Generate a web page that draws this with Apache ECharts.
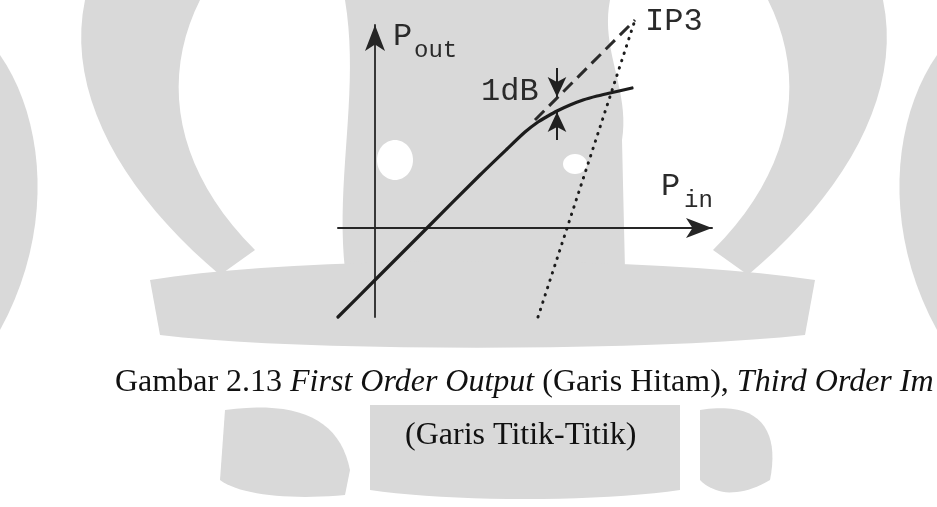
<!DOCTYPE html>
<html>
<head>
<meta charset="utf-8">
<script src="https://cdn.jsdelivr.net/npm/echarts@6/dist/echarts.min.js"></script>
<style>
  html, body { margin: 0; padding: 0; background: #ffffff; }
  #chart { width: 937px; height: 507px; }
</style>
</head>
<body>
<div id="chart"></div>
<script>
// Power axes in arbitrary dB units (origin where both axes cross)
const pinRange  = [-3.7, 33.7];
const poutRange = [-8.9, 20.3];

// First-order output: linear (slope 1) then gain compression
const firstPin  = [-3.7, 0.0, 5.2, 10.5, 13.2, 15.0, 16.3, 17.3, 18.2, 19.5, 20.8, 22.2, 23.5, 25.7];
const firstPout = [-8.9, -5.2, 0.0, 5.3, 7.9, 9.6, 10.6, 11.2, 11.7, 12.3, 12.8, 13.2, 13.5, 14.0];

// Linear extrapolation of the first-order response up to IP3
const extrapPin  = [16.0, 26.0];
const extrapPout = [10.8, 20.8];

// Third-order intermodulation product (slope 3)
const thirdPin  = [16.3, 26.0];
const thirdPout = [-8.9, 20.8];

// 1 dB compression point markers
const compPin       = 18.2;
const arrowDownPout = [16.0, 13.1];
const arrowUpPout   = [8.8, 11.6];

// Text labels and their anchor points (data units)
const labelIP3  = { text: 'IP3', at: [27.0, 19.0] };
const label1dB  = { text: '1dB', at: [10.6, 12.0] };
const labelPout = { main: 'P', sub: 'out', at: [1.8, 17.5], subAt: [3.9, 16.5] };
const labelPin  = { main: 'P', sub: 'in',  at: [28.6, 2.5], subAt: [30.9, 1.5] };

const captionLine1 = [
  ['r', 'Gambar 2.13 '], ['i', 'First Order Output'],
  ['r', ' (Garis Hitam), '], ['i', 'Third Order Im']
];
const captionLine2 = '(Garis Titik-Titik)';

const zip = (xs, ys) => xs.map((x, i) => [x, ys[i]]);

const ink = '#1c1c1c';
const mono = '"Liberation Mono", "DejaVu Sans Mono", monospace';
const serif = '"Liberation Serif", "DejaVu Serif", serif';
const shade = '#d9d9d9';

const chart = echarts.init(document.getElementById('chart'), null, { renderer: 'canvas' });

const hiddenAxisParts = {
  axisTick: { show: false },
  axisLabel: { show: false },
  splitLine: { show: false }
};

chart.setOption({
  backgroundColor: '#ffffff',
  animation: false,
  grid: { left: 338, right: 225, top: 25, bottom: 190, containLabel: false },
  xAxis: Object.assign({
    type: 'value', min: pinRange[0], max: pinRange[1],
    axisLine: {
      show: true, onZero: true,
      symbol: ['none', 'arrow'], symbolSize: [15, 26],
      lineStyle: { color: '#262626', width: 2 }
    }
  }, hiddenAxisParts),
  yAxis: Object.assign({
    type: 'value', min: poutRange[0], max: poutRange[1],
    axisLine: {
      show: true, onZero: true,
      symbol: ['none', 'arrow'], symbolSize: [15, 26],
      lineStyle: { color: '#262626', width: 1.8 }
    }
  }, hiddenAxisParts),
  series: [
    {
      name: 'Third order',
      type: 'line', clip: false, symbol: 'none', z: 3,
      data: zip(thirdPin, thirdPout),
      lineStyle: { color: ink, width: 3, type: [0.5, 7.2], cap: 'round' }
    },
    {
      name: 'Extrapolated first order',
      type: 'line', clip: false, symbol: 'none', z: 4,
      data: zip(extrapPin, extrapPout),
      lineStyle: { color: '#2a2a2a', width: 3, type: [13, 7] }
    },
    {
      name: 'First order',
      type: 'line', clip: false, symbol: 'none', z: 5,
      smooth: 0.25,
      data: zip(firstPin, firstPout),
      lineStyle: { color: ink, width: 3.2, cap: 'round', join: 'round' },
      markLine: {
        silent: true, symbol: ['none', 'arrow'], symbolSize: [14, 20],
        label: { show: false },
        lineStyle: { color: '#202020', width: 2, type: 'solid' },
        data: [
          [{ coord: [compPin, arrowDownPout[0]] }, { coord: [compPin, arrowDownPout[1]] }],
          [{ coord: [compPin, arrowUpPout[0]] }, { coord: [compPin, arrowUpPout[1]] }]
        ]
      }
    }
  ]
});

// Watermark outlines (M / L / C / Z), drawn behind everything
const watermark = [
  // left horn and left edge
  'M 85 0 L 200 0 C 160 80 175 170 255 250 L 220 275 C 125 195 65 95 85 0 Z',
  'M 0 55 C 45 120 55 230 0 330 Z',
  // right horn and right edge
  'M 883 0 L 768 0 C 808 80 793 170 713 250 L 748 275 C 843 195 903 95 883 0 Z',
  'M 937 55 C 892 120 882 230 937 330 Z',
  // central body behind the plot
  'M 345 0 L 610 0 C 600 50 630 90 622 140 L 625 270 L 345 270 C 335 180 360 90 345 0 Z',
  // band across the lower part of the plot
  'M 150 280 C 300 255 650 255 815 280 L 805 335 C 650 352 300 352 160 335 Z',
  // lower shapes behind the caption's second line
  'M 225 410 C 300 400 340 420 350 470 L 345 495 C 290 500 240 495 220 480 Z',
  'M 370 405 L 680 405 L 680 490 C 600 502 450 502 370 490 Z',
  'M 700 410 C 760 400 780 430 770 480 C 740 498 715 495 700 480 Z'
];
// light gaps inside the central body
const gaps = [
  { cx: 395, cy: 160, rx: 18, ry: 20 },
  { cx: 575, cy: 164, rx: 12, ry: 10 }
];

// Flatten an outline with cubic segments into polygon points
function outlineToPoints(d) {
  const tk = d.trim().split(/\s+/);
  const pts = [];
  let i = 0, cur = [0, 0];
  while (i < tk.length) {
    const c = tk[i++];
    if (c === 'M' || c === 'L') {
      cur = [+tk[i], +tk[i + 1]]; i += 2; pts.push(cur);
    } else if (c === 'C') {
      const p1 = [+tk[i], +tk[i + 1]], p2 = [+tk[i + 2], +tk[i + 3]], p3 = [+tk[i + 4], +tk[i + 5]];
      i += 6;
      for (let s = 1; s <= 20; s++) {
        const t = s / 20, u = 1 - t;
        pts.push([
          u * u * u * cur[0] + 3 * u * u * t * p1[0] + 3 * u * t * t * p2[0] + t * t * t * p3[0],
          u * u * u * cur[1] + 3 * u * u * t * p1[1] + 3 * u * t * t * p2[1] + t * t * t * p3[1]
        ]);
      }
      cur = p3;
    }
  }
  return pts;
}

const graphics = [];
watermark.forEach((d, i) => graphics.push({
  type: 'polygon', id: 'wm' + i, silent: true, z: -100,
  shape: { points: outlineToPoints(d) }, style: { fill: shade }
}));
gaps.forEach((g, i) => graphics.push({
  type: 'ellipse', id: 'gap' + i, silent: true, z: -99,
  shape: { cx: g.cx, cy: g.cy, rx: g.rx, ry: g.ry }, style: { fill: '#ffffff' }
}));

const toPx = (pt) => chart.convertToPixel({ gridIndex: 0 }, pt);

function monoText(id, text, pt, size) {
  const p = toPx(pt);
  return {
    type: 'text', id, silent: true, z: 50,
    x: p[0], y: p[1],
    style: {
      text, fill: '#2a2a2a', fontFamily: mono, fontSize: size,
      align: 'left', verticalAlign: 'bottom'
    }
  };
}

graphics.push(monoText('ip3', labelIP3.text, labelIP3.at, 32));
graphics.push(monoText('db1', label1dB.text, label1dB.at, 32));
graphics.push(monoText('poutP', labelPout.main, labelPout.at, 32));
graphics.push(monoText('poutS', labelPout.sub, labelPout.subAt, 24));
graphics.push(monoText('pinP', labelPin.main, labelPin.at, 32));
graphics.push(monoText('pinS', labelPin.sub, labelPin.subAt, 24));

// Caption
graphics.push({
  type: 'text', id: 'cap1', silent: true, z: 50,
  x: 115, y: 383,
  style: {
    text: captionLine1.map(([k, t]) => '{' + k + '|' + t + '}').join(''),
    align: 'left', verticalAlign: 'middle',
    rich: {
      r: { fontFamily: serif, fontSize: 32, fill: '#111111' },
      i: { fontFamily: serif, fontSize: 32, fontStyle: 'italic', fill: '#111111' }
    }
  }
});
graphics.push({
  type: 'text', id: 'cap2', silent: true, z: 50,
  x: 405, y: 436,
  style: {
    text: captionLine2, fontFamily: serif, fontSize: 32, fill: '#111111',
    align: 'left', verticalAlign: 'middle'
  }
});

chart.setOption({ graphic: graphics });
</script>
</body>
</html>
